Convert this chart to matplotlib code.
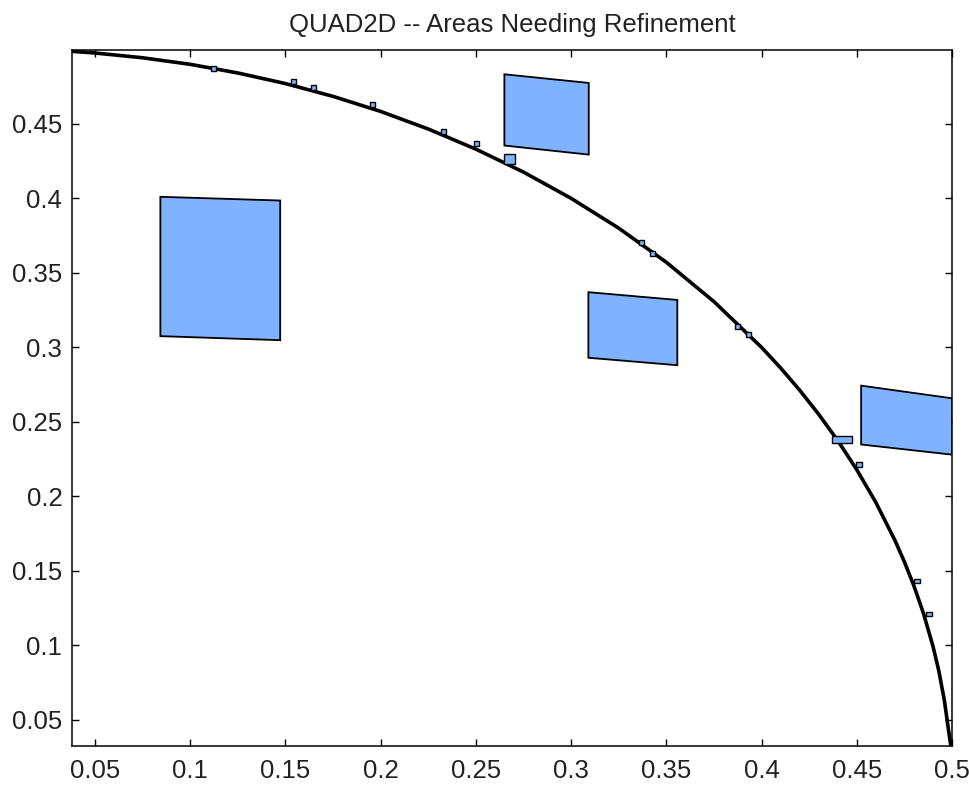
import numpy as np
import matplotlib
matplotlib.use("Agg")
import matplotlib.pyplot as plt
from matplotlib.patches import Polygon

# boundary curve
curve_x = [0.038, 0.05, 0.075, 0.1, 0.125, 0.15, 0.175, 0.2, 0.225, 0.25, 0.275,
           0.3, 0.325, 0.35, 0.375, 0.4, 0.41, 0.42, 0.43, 0.44, 0.45, 0.46, 0.47,
           0.475, 0.48, 0.485, 0.49, 0.493, 0.496, 0.498, 0.4995]
curve_y = [0.4986, 0.4975, 0.4943, 0.4899, 0.4841, 0.4770, 0.4684, 0.4583, 0.4465,
           0.4330, 0.4176, 0.4000, 0.3800, 0.3571, 0.3307, 0.3000, 0.2862, 0.2713,
           0.2551, 0.2375, 0.2179, 0.1960, 0.1706, 0.1561, 0.1400, 0.1216, 0.0995,
           0.0834, 0.0631, 0.0447, 0.0316]

# large refinement quads (corners: TL, TR, BR, BL)
quad_x = [
    [0.0844, 0.1473, 0.1473, 0.0844],
    [0.2650, 0.3093, 0.3093, 0.2650],
    [0.3091, 0.3558, 0.3558, 0.3091],
    [0.4523, 0.5000, 0.5000, 0.4523],
]
quad_y = [
    [0.4010, 0.3985, 0.3048, 0.3075],
    [0.4832, 0.4774, 0.4293, 0.4354],
    [0.3370, 0.3318, 0.2880, 0.2930],
    [0.2743, 0.2658, 0.2280, 0.2348],
]

# tiny quads sitting on the curve (x0, x1, y0, y1)
box_x0 = [0.1110, 0.1530, 0.1635, 0.1945, 0.2315, 0.2488, 0.2650, 0.3356, 0.3413,
          0.3861, 0.3919, 0.4370, 0.4498, 0.4803, 0.4866]
box_x1 = [0.1136, 0.1558, 0.1663, 0.1973, 0.2341, 0.2516, 0.2708, 0.3384, 0.3443,
          0.3889, 0.3947, 0.4475, 0.4526, 0.4831, 0.4894]
box_y0 = [0.4856, 0.4768, 0.4728, 0.4613, 0.4431, 0.4350, 0.4231, 0.3684, 0.3610,
          0.3125, 0.3071, 0.2355, 0.2196, 0.1416, 0.1194]
box_y1 = [0.4890, 0.4802, 0.4762, 0.4647, 0.4465, 0.4384, 0.4298, 0.3718, 0.3644,
          0.3159, 0.3105, 0.2406, 0.2230, 0.1446, 0.1224]

xticks = [0.05, 0.1, 0.15, 0.2, 0.25, 0.3, 0.35, 0.4, 0.45, 0.5]
yticks = [0.05, 0.1, 0.15, 0.2, 0.25, 0.3, 0.35, 0.4, 0.45]

fill = "#80b3ff"

plt.rcParams["font.family"] = ["Liberation Sans", "DejaVu Sans"]
fig = plt.figure(figsize=(9.7, 7.85), dpi=100)
ax = fig.add_axes([72 / 970, 39 / 785, 880 / 970, 696 / 785])

for qx, qy in zip(quad_x, quad_y):
    ax.add_patch(Polygon(np.column_stack([qx, qy]), closed=True, facecolor=fill,
                         edgecolor="black", linewidth=1.3, zorder=2))

ax.plot(curve_x, curve_y, color="black", linewidth=2.6, zorder=3,
        solid_joinstyle="round")

for x0, x1, y0, y1 in zip(box_x0, box_x1, box_y0, box_y1):
    ax.add_patch(Polygon([[x0, y1], [x1, y1], [x1, y0], [x0, y0]], closed=True,
                         facecolor=fill, edgecolor="black", linewidth=1.0, zorder=4))

ax.set_xlim(0.038, 0.5)
ax.set_ylim(0.0325, 0.4995)
ax.set_xticks(xticks)
ax.set_yticks(yticks)
ax.set_xticklabels([f"{v:g}" for v in xticks])
ax.set_yticklabels([f"{v:g}" for v in yticks])
ax.tick_params(direction="in", length=5, width=1.0, labelsize=18.5,
               labelcolor="#222222", top=True, right=True)
ax.tick_params(axis="x", pad=9)
ax.tick_params(axis="y", pad=7)
for s in ax.spines.values():
    s.set_linewidth(1.1)

ax.set_title("QUAD2D -- Areas Needing Refinement", fontsize=18.5, pad=13,
             color="#222222")

fig.savefig("out.png", dpi=100, facecolor="white")
